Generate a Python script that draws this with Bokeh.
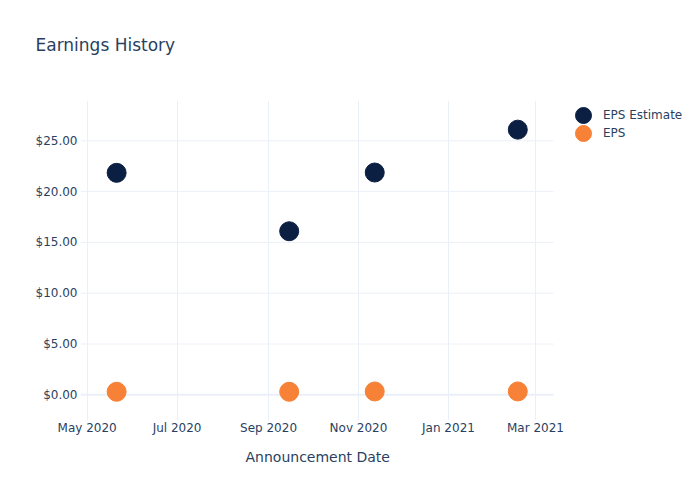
import pandas as pd
from bokeh.plotting import figure
from bokeh.models import (ColumnDataSource, Range1d, FixedTicker, NumeralTickFormatter,
                          DatetimeTickFormatter, Legend, LegendItem, Title)
from bokeh.embed import file_html
from bokeh.resources import INLINE

# ---- data ----
dates = ["2020-05-21", "2020-09-15", "2020-11-12", "2021-02-17"]
eps_estimate = [21.85, 16.10, 21.88, 26.10]
eps = [0.30, 0.30, 0.33, 0.33]
y_ticks = [0, 5, 10, 15, 20, 25]
x_tick_dates = ["2020-05-01", "2020-07-01", "2020-09-01", "2020-11-01", "2021-01-01", "2021-03-01"]
series_names = ["EPS Estimate", "EPS"]
chart_title = "Earnings History"

FONT = "DejaVu Sans"
TXT = "#2a3f5f"
GRID = "#ebf0f8"
NAVY = "#0b1f43"
ORANGE = "#f68137"

# visible plot area: 473 px wide; frame is extended to the right edge (620 px)
# so the legend can sit inside the frame without being clipped
PLOT_W, FRAME_W = 473, 620
x0 = pd.Timestamp("2020-04-26 12:00")
x1_vis = pd.Timestamp("2021-03-13 05:00")
x1 = x0 + (x1_vis - x0) * (FRAME_W / PLOT_W)
ms = lambda t: int(t.value // 10**6)

src = ColumnDataSource(dict(date=pd.to_datetime(dates), est=eps_estimate, eps=eps))
grid_src = ColumnDataSource(dict(x0=[x0] * len(y_ticks), x1=[x1_vis] * len(y_ticks),
                                 y=y_ticks, w=[2 if t == 0 else 1 for t in y_ticks]))

p = figure(width=700, height=500, x_axis_type="datetime",
           output_backend="svg", toolbar_location=None,
           x_range=Range1d(x0, x1), y_range=Range1d(-2.53, 28.97),
           min_border_left=80, min_border_right=0, min_border_top=100, min_border_bottom=80)
p.outline_line_color = None
p.background_fill_color = "white"
p.border_fill_color = "white"

# title (two blank padding lines lift it towards the top of the 100px header)
p.title.text = chart_title + "\n \n "
p.title.align = "left"
p.title.offset = -45
p.title.standoff = 12
p.title.text_font = FONT
p.title.text_font_size = "17px"
p.title.text_font_style = "normal"
p.title.text_color = TXT

# grid: vertical lines from the x ticker, horizontal lines limited to the plot area
p.xgrid.grid_line_color = GRID
p.xgrid.grid_line_width = 1
p.ygrid.grid_line_color = None
p.segment(x0="x0", x1="x1", y0="y", y1="y", line_width="w", line_color=GRID,
          source=grid_src, level="underlay")

# axes
p.xaxis.ticker = FixedTicker(ticks=[ms(pd.Timestamp(d)) for d in x_tick_dates])
p.xaxis.formatter = DatetimeTickFormatter(months="%b %Y", days="%b %Y", years="%b %Y")
p.yaxis.ticker = FixedTicker(ticks=y_ticks)
p.yaxis.formatter = NumeralTickFormatter(format="$0.00")
for ax in (p.xaxis[0], p.yaxis[0]):
    ax.axis_line_color = None
    ax.major_tick_line_color = None
    ax.minor_tick_line_color = None
    ax.major_tick_out = 0
    ax.major_tick_in = 0
    ax.minor_tick_out = 0
    ax.minor_tick_in = 0
    ax.major_label_text_font = FONT
    ax.major_label_text_font_size = "12px"
    ax.major_label_text_color = TXT
p.yaxis.major_label_standoff = 3
p.xaxis.major_label_standoff = 0

# x-axis title, centred under the visible plot area
p.add_layout(Title(text="Announcement Date", align="left", offset=165, standoff=19,
                   text_font=FONT, text_font_size="14px", text_font_style="normal",
                   text_color=TXT), "below")

# markers
r1 = p.scatter("date", "est", source=src, size=19, fill_color=NAVY, line_color=NAVY)
r2 = p.scatter("date", "eps", source=src, size=19, fill_color=ORANGE, line_color=ORANGE)

leg_style = dict(glyph_width=40, glyph_height=40, padding=0, margin=0, label_standoff=0,
                 border_line_alpha=0, background_fill_alpha=0,
                 label_text_font=FONT, label_text_font_size="12px", label_text_color=TXT)
p.add_layout(Legend(items=[LegendItem(label=series_names[0], renderers=[r1])],
                    location=(483, 285), **leg_style))
p.add_layout(Legend(items=[LegendItem(label=series_names[1], renderers=[r2])],
                    location=(483, 267), **leg_style))

open("out.html", "w").write(file_html(p, INLINE))
